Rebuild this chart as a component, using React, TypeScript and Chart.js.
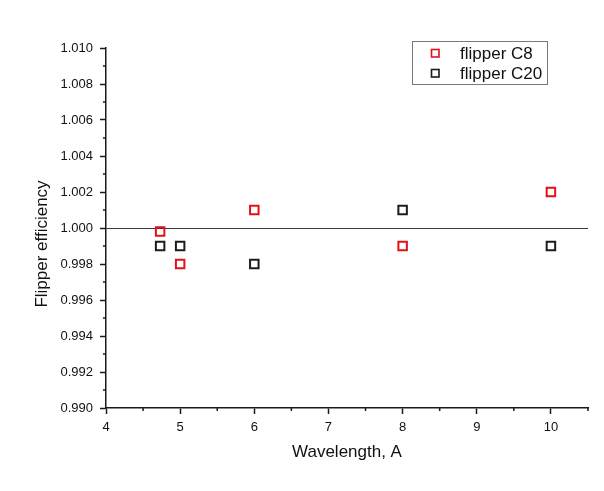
import { useEffect, useRef } from 'react';
import { Chart, registerables } from 'chart.js';

Chart.register(...registerables);

// Measured flipper efficiency versus neutron wavelength (Å)
const wavelengthsC8 = [4.73, 5, 6, 8, 10];
const efficiencyC8 = [0.9998, 0.998, 1.001, 0.999, 1.002];
const wavelengthsC20 = [4.73, 5, 6, 8, 10];
const efficiencyC20 = [0.999, 0.999, 0.998, 1.001, 0.999];

const seriesLabels = ['flipper C8', 'flipper C20'];
const seriesColors = ['#e3101a', '#1c1c1c'];
const xTitle = 'Wavelength, A';
const yTitle = 'Flipper efficiency';

const xLimits = [4, 10.5];
const xStep = 1;
const yLimits = [0.99, 1.01];
const yStep = 0.002;
const unityLevel = 1.0;

const FONT = "'Liberation Sans', Arial, sans-serif";
const AXIS_COLOR = '#1a1a1a';

// Minor ticks, the unity reference line, the y title and a boxed legend inside the plot
const decorPlugin = {
  id: 'decor',
  beforeDatasetsDraw(chart: any) {
    const { ctx, chartArea, scales } = chart;
    const y = scales.y.getPixelForValue(unityLevel);
    ctx.save();
    ctx.strokeStyle = '#3a3a3a';
    ctx.lineWidth = 1;
    ctx.beginPath();
    ctx.moveTo(chartArea.left, Math.round(y) + 0.5);
    ctx.lineTo(chartArea.right, Math.round(y) + 0.5);
    ctx.stroke();
    ctx.restore();
  },
  afterDraw(chart: any) {
    const { ctx, chartArea, scales } = chart;
    ctx.save();
    ctx.strokeStyle = AXIS_COLOR;
    ctx.lineWidth = 1.5;
    ctx.beginPath();
    for (let v = yLimits[0] + yStep / 2; v < yLimits[1] + 1e-9; v += yStep) {
      const py = scales.y.getPixelForValue(v);
      ctx.moveTo(chartArea.left - 3, py);
      ctx.lineTo(chartArea.left, py);
    }
    for (let v = xLimits[0] + xStep / 2; v < xLimits[1] + 1e-9; v += xStep) {
      const px = scales.x.getPixelForValue(v);
      ctx.moveTo(px, chartArea.bottom);
      ctx.lineTo(px, chartArea.bottom + 3);
    }
    ctx.stroke();

    // y axis title
    ctx.save();
    ctx.translate(42, 244);
    ctx.rotate(-Math.PI / 2);
    ctx.font = `17px ${FONT}`;
    ctx.fillStyle = '#111';
    ctx.textAlign = 'center';
    ctx.textBaseline = 'middle';
    ctx.fillText(yTitle, 0, 0);
    ctx.restore();

    // legend box
    const bx = 412.5, by = 41.5, bw = 135, bh = 43;
    ctx.strokeStyle = '#7a7a7a';
    ctx.lineWidth = 1;
    ctx.strokeRect(bx, by, bw, bh);
    ctx.font = `17px ${FONT}`;
    ctx.textBaseline = 'middle';
    ctx.textAlign = 'left';
    chart.data.datasets.forEach((ds: any, i: number) => {
      const cy = 53 + i * 20;
      ctx.strokeStyle = ds.borderColor;
      ctx.lineWidth = 1.6;
      ctx.strokeRect(431.5, cy - 3.5, 7.5, 7.5);
      ctx.fillStyle = '#111';
      ctx.fillText(ds.label, 460, cy + 1);
    });
    ctx.restore();
  },
};

export default function App() {
  const canvasRef = useRef<HTMLCanvasElement | null>(null);

  useEffect(() => {
    document.body.style.margin = '0';
    const canvas = canvasRef.current;
    if (!canvas) return;
    const makePoints = (xs: number[], ys: number[]) => xs.map((x, i) => ({ x, y: ys[i] }));
    const chart = new Chart(canvas, {
      type: 'scatter',
      data: {
        datasets: [
          {
            label: seriesLabels[0],
            data: makePoints(wavelengthsC8, efficiencyC8),
            borderColor: seriesColors[0],
            backgroundColor: 'rgba(0,0,0,0)',
            pointStyle: 'rect',
            pointRadius: 6,
            borderWidth: 2,
          },
          {
            label: seriesLabels[1],
            data: makePoints(wavelengthsC20, efficiencyC20),
            borderColor: seriesColors[1],
            backgroundColor: 'rgba(0,0,0,0)',
            pointStyle: 'rect',
            pointRadius: 6,
            borderWidth: 2,
          },
        ],
      },
      options: {
        animation: false,
        responsive: true,
        maintainAspectRatio: false,
        layout: { padding: { top: 48, right: 16, left: 0, bottom: 0 } },
        plugins: {
          legend: { display: false },
          tooltip: { enabled: false },
        },
        scales: {
          x: {
            type: 'linear',
            min: xLimits[0],
            max: xLimits[1],
            afterFit: (s: any) => { s.height = 83; },
            border: { display: true, color: AXIS_COLOR, width: 1.5 },
            grid: { display: true, drawOnChartArea: false, drawTicks: true, tickLength: 6, color: AXIS_COLOR, tickWidth: 1.5 },
            ticks: {
              stepSize: xStep,
              includeBounds: false,
              padding: 6,
              color: '#111',
              font: { family: FONT, size: 13 },
              callback: (v: any) => String(v),
            },
            title: {
              display: true,
              text: xTitle,
              color: '#111',
              font: { family: FONT, size: 17 },
              padding: { top: 0, bottom: 28 },
            },
          },
          y: {
            type: 'linear',
            min: yLimits[0],
            max: yLimits[1],
            afterFit: (s: any) => { s.width = 106; },
            border: { display: true, color: AXIS_COLOR, width: 1.5 },
            grid: { display: true, drawOnChartArea: false, drawTicks: true, tickLength: 6, color: AXIS_COLOR, tickWidth: 1.5 },
            ticks: {
              stepSize: yStep,
              includeBounds: false,
              padding: 7,
              color: '#111',
              font: { family: FONT, size: 13 },
              callback: (v: any) => Number(v).toFixed(3),
            },
          },
        },
      },
      plugins: [decorPlugin],
    });
    return () => chart.destroy();
  }, []);

  return (
    <div style={{ position: 'fixed', left: 0, top: 0, width: 604, height: 491, background: '#fff' }}>
      <canvas ref={canvasRef} />
    </div>
  );
}
